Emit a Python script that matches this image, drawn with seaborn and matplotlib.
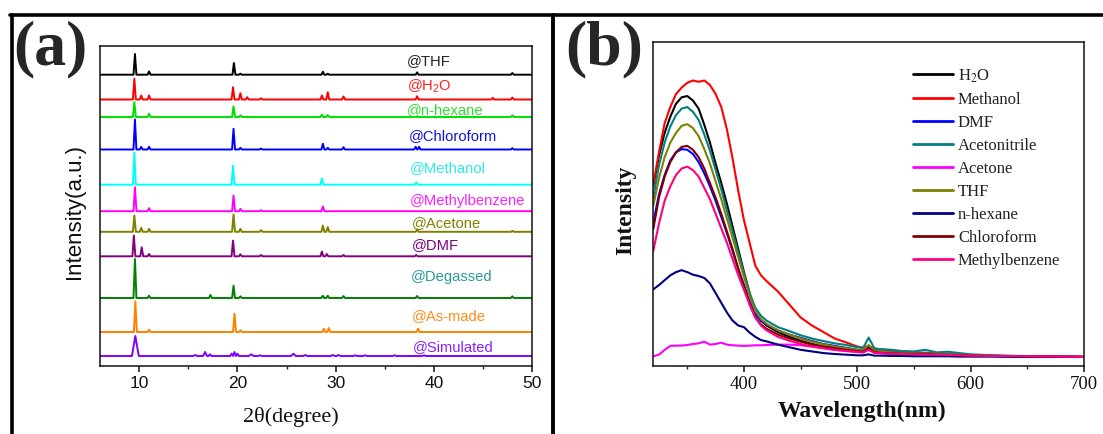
import numpy as np
import pandas as pd
import matplotlib
matplotlib.use("Agg")
import matplotlib.pyplot as plt
import seaborn as sns
from matplotlib.lines import Line2D
from matplotlib.ticker import MultipleLocator

# ---------------- Panel (a): PXRD patterns (2theta positions / relative heights) ----------------
xrd_labels = ["@THF", "@H$_2$O", "@n-hexane", "@Chloroform", "@Methanol", "@Methylbenzene",
              "@Acetone", "@DMF", "@Degassed", "@As-made", "@Simulated"]

thf_pos = [9.56, 11.0, 19.64, 20.3, 28.7, 29.2, 38.3, 48.0]
thf_h = [20.7, 3.3, 11.7, 1.0, 3.0, 1.0, 2.3, 1.7]
h2o_pos = [9.5, 10.2, 11.0, 19.55, 20.3, 21.0, 22.4, 28.6, 29.2, 30.8, 38.3, 46.0, 48.0]
h2o_h = [20.7, 4.0, 4.0, 12.3, 6.3, 2.3, 1.3, 4.0, 7.3, 3.0, 3.3, 1.7, 2.0]
hex_pos = [9.5, 11.0, 19.6, 20.3, 28.6, 29.2, 48.0]
hex_h = [15.0, 3.3, 10.7, 1.7, 2.3, 2.0, 1.7]
chl_pos = [9.56, 10.2, 11.0, 19.6, 20.3, 22.4, 28.7, 29.2, 30.8, 38.15, 38.5, 48.0]
chl_h = [30.0, 2.7, 2.7, 20.7, 1.7, 1.0, 5.7, 1.7, 2.3, 2.7, 2.7, 1.3]
meoh_pos = [9.5, 19.55, 28.6, 38.2]
meoh_h = [32.3, 19.0, 6.3, 2.3]
mb_pos = [9.56, 11.0, 19.6, 20.3, 22.4, 28.7]
mb_h = [24.0, 3.0, 15.7, 2.3, 1.0, 4.7]
ace_pos = [9.5, 10.2, 11.0, 19.6, 20.3, 22.4, 28.7, 29.2, 38.3, 48.0]
ace_h = [16.3, 4.0, 3.0, 17.3, 3.0, 1.7, 6.3, 4.7, 2.3, 1.0]
dmf_pos = [9.45, 10.25, 11.0, 19.55, 20.3, 22.4, 28.6, 29.1, 30.8, 38.2]
dmf_h = [20.7, 9.0, 2.3, 15.7, 2.0, 1.3, 4.7, 2.3, 1.3, 1.3]
deg_pos = [9.56, 11.0, 17.25, 19.6, 20.3, 28.7, 29.2, 30.8, 38.3, 48.0]
deg_h = [39.0, 2.3, 3.0, 12.3, 1.7, 2.3, 2.3, 2.0, 2.0, 1.7]
asm_pos = [9.6, 11.0, 19.7, 20.3, 28.8, 29.3, 38.4]
asm_h = [30.7, 2.3, 18.3, 1.7, 3.3, 4.0, 3.3]
sim_pos = [9.6, 15.7, 16.7, 17.2, 19.4, 19.7, 20.0, 21.4, 22.3, 25.7, 26.9, 29.7, 30.3, 32.0, 33.0, 36.0, 39.0]
sim_h = [20.0, 1.0, 4.0, 1.7, 2.3, 4.0, 2.3, 1.7, 0.7, 2.3, 1.0, 1.0, 1.0, 0.7, 0.7, 0.7, 0.7]
sim_w = [0.35, 0.2, 0.2, 0.15, 0.15, 0.15, 0.15, 0.25, 0.2, 0.25, 0.2, 0.2, 0.2, 0.2, 0.2, 0.2, 0.2]

xrd_offsets = [291.3, 266.5, 249.0, 216.5, 181.3, 154.8, 134.2, 109.7, 68.0, 34.0, 10.0]
xrd_line_colors = ["#000000", "#FF0000", "#00E000", "#0000FF", "#00FFFF", "#FF00FF",
                   "#808000", "#800080", "#008000", "#FF8000", "#8000FF"]
xrd_text_colors = ["#222222", "#FF2020", "#30E030", "#1010E0", "#30E8E8", "#FF20FF",
                   "#808000", "#800080", "#2A9A9A", "#FF8C1A", "#8A20FF"]
label_x = [37.23, 37.23, 37.23, 37.47, 37.57, 37.57, 37.74, 37.74, 37.7, 37.74, 37.9]
label_y = [306.3, 280.3, 257.0, 231.3, 198.7, 166.0, 144.3, 122.0, 90.3, 51.3, 20.3]

# ---------------- Panel (b): PL spectra ----------------
wl = [320, 325, 330, 335, 340, 345, 350, 355, 360, 365, 370, 375, 380, 385, 390, 395, 400, 405,
      410, 415, 420, 430, 440, 450, 460, 470, 480, 490, 500, 505, 510, 515, 520, 530, 540, 550,
      560, 570, 580, 590, 600, 620, 650, 700]
pl_h2o = [0.556, 0.65, 0.72, 0.77, 0.81, 0.83, 0.834, 0.82, 0.795, 0.745, 0.69, 0.625, 0.565, 0.50,
          0.43, 0.36, 0.29, 0.225, 0.165, 0.14, 0.125, 0.105, 0.09, 0.078, 0.068, 0.06, 0.055, 0.05,
          0.045, 0.043, 0.055, 0.042, 0.04, 0.038, 0.037, 0.036, 0.038, 0.035, 0.034, 0.033, 0.032,
          0.031, 0.03, 0.028]
pl_methanol = [0.56, 0.66, 0.75, 0.80, 0.84, 0.86, 0.875, 0.882, 0.878, 0.882, 0.868, 0.84, 0.80,
               0.73, 0.64, 0.54, 0.45, 0.38, 0.31, 0.28, 0.262, 0.23, 0.19, 0.15, 0.125, 0.105,
               0.085, 0.073, 0.06, 0.057, 0.062, 0.053, 0.052, 0.048, 0.045, 0.042, 0.04, 0.038,
               0.036, 0.035, 0.034, 0.032, 0.03, 0.028]
pl_dmf = [0.443, 0.53, 0.59, 0.635, 0.66, 0.67, 0.668, 0.655, 0.63, 0.595, 0.555, 0.51, 0.46, 0.41,
          0.355, 0.30, 0.25, 0.20, 0.16, 0.14, 0.128, 0.11, 0.097, 0.087, 0.077, 0.068, 0.062, 0.056,
          0.05, 0.048, 0.06, 0.047, 0.045, 0.042, 0.04, 0.039, 0.041, 0.037, 0.036, 0.035, 0.033,
          0.031, 0.03, 0.028]
pl_acetonitrile = [0.52, 0.62, 0.69, 0.74, 0.775, 0.795, 0.80, 0.785, 0.76, 0.715, 0.665, 0.605,
                   0.545, 0.48, 0.415, 0.35, 0.285, 0.225, 0.18, 0.155, 0.14, 0.12, 0.108, 0.095,
                   0.085, 0.077, 0.07, 0.065, 0.058, 0.055, 0.088, 0.055, 0.052, 0.05, 0.046, 0.045,
                   0.05, 0.042, 0.044, 0.04, 0.036, 0.033, 0.03, 0.028]
pl_acetone = [0.03, 0.035, 0.05, 0.062, 0.063, 0.063, 0.065, 0.068, 0.07, 0.075, 0.066, 0.068, 0.072,
              0.066, 0.064, 0.063, 0.062, 0.063, 0.064, 0.064, 0.065, 0.066, 0.066, 0.064, 0.06,
              0.055, 0.05, 0.046, 0.043, 0.042, 0.05, 0.041, 0.04, 0.038, 0.037, 0.036, 0.037,
              0.035, 0.034, 0.033, 0.032, 0.031, 0.03, 0.028]
pl_thf = [0.495, 0.58, 0.645, 0.69, 0.72, 0.742, 0.747, 0.735, 0.71, 0.67, 0.625, 0.57, 0.515,
          0.455, 0.395, 0.335, 0.275, 0.215, 0.17, 0.145, 0.13, 0.11, 0.097, 0.085, 0.075, 0.067,
          0.06, 0.055, 0.05, 0.048, 0.065, 0.047, 0.045, 0.042, 0.04, 0.039, 0.04, 0.037, 0.036,
          0.035, 0.033, 0.031, 0.03, 0.028]
pl_nhexane = [0.237, 0.25, 0.265, 0.28, 0.29, 0.296, 0.29, 0.282, 0.278, 0.272, 0.255, 0.225, 0.195,
              0.165, 0.14, 0.125, 0.12, 0.103, 0.09, 0.08, 0.076, 0.066, 0.058, 0.05, 0.045, 0.04,
              0.037, 0.035, 0.033, 0.033, 0.036, 0.032, 0.032, 0.031, 0.031, 0.03, 0.03, 0.03, 0.03,
              0.029, 0.029, 0.029, 0.028, 0.028]
pl_chloroform = [0.423, 0.52, 0.585, 0.63, 0.66, 0.677, 0.68, 0.668, 0.645, 0.61, 0.565, 0.52, 0.47,
                 0.415, 0.36, 0.30, 0.245, 0.19, 0.15, 0.128, 0.115, 0.097, 0.085, 0.075, 0.066,
                 0.06, 0.055, 0.05, 0.046, 0.044, 0.055, 0.043, 0.041, 0.039, 0.038, 0.037, 0.038,
                 0.035, 0.034, 0.033, 0.032, 0.031, 0.03, 0.028]
pl_methylbenzene = [0.356, 0.44, 0.51, 0.555, 0.59, 0.61, 0.616, 0.605, 0.585, 0.55, 0.515, 0.47,
                    0.425, 0.38, 0.33, 0.28, 0.235, 0.19, 0.15, 0.125, 0.11, 0.09, 0.078, 0.068,
                    0.06, 0.055, 0.05, 0.047, 0.044, 0.042, 0.05, 0.041, 0.04, 0.038, 0.037, 0.036,
                    0.036, 0.035, 0.034, 0.033, 0.032, 0.031, 0.03, 0.028]
pl_names = ["H$_2$O", "Methanol", "DMF", "Acetonitrile", "Acetone", "THF", "n-hexane",
            "Chloroform", "Methylbenzene"]
pl_colors = ["#000000", "#FF0000", "#0000FF", "#008080", "#FF00FF", "#808000", "#000080",
             "#800000", "#FF0080"]

# ---------------- Figure ----------------
sns.set_theme(style="white")
plt.rcParams["font.family"] = ["Liberation Sans", "DejaVu Sans"]
plt.rcParams["mathtext.fontset"] = "custom"
plt.rcParams["mathtext.rm"] = "Liberation Sans"
plt.rcParams["mathtext.it"] = "Liberation Sans:italic"

W, H = 1103, 435
fig = plt.figure(figsize=(W / 100, H / 100), dpi=100)
fig.patch.set_facecolor("white")
axa = fig.add_axes([100 / W, 68 / H, 432 / W, 320.3 / H])
axb = fig.add_axes([653.3 / W, 68 / H, 430.7 / W, 323.7 / H])


def peak_vertices(pos, hts, widths, x0=6.0, x1=50.0):
    xs, ys = [x0], [0.0]
    for p, h, w in zip(pos, hts, widths):
        xs += [p - w, p, p + w]
        ys += [0.0, h, 0.0]
    xs.append(x1)
    ys.append(0.0)
    return xs, ys


xrd_series = [(thf_pos, thf_h), (h2o_pos, h2o_h), (hex_pos, hex_h), (chl_pos, chl_h),
              (meoh_pos, meoh_h), (mb_pos, mb_h), (ace_pos, ace_h), (dmf_pos, dmf_h),
              (deg_pos, deg_h), (asm_pos, asm_h), (sim_pos, sim_h)]

for i, (pos, hts) in enumerate(xrd_series):
    widths = sim_w if i == len(xrd_series) - 1 else [0.15] * len(pos)
    xs, ys = peak_vertices(pos, hts, widths)
    df = pd.DataFrame({"two_theta": xs, "intensity": np.array(ys) + xrd_offsets[i]})
    sns.lineplot(data=df, x="two_theta", y="intensity", ax=axa, color=xrd_line_colors[i],
                 lw=1.4, estimator=None, sort=False)
    axa.text(label_x[i], label_y[i], xrd_labels[i], color=xrd_text_colors[i], fontsize=10.6,
             ha="left", va="center")

axa.set_xlim(6, 50)
axa.set_ylim(0, 320.3)
axa.set_yticks([])
axa.xaxis.set_major_locator(MultipleLocator(10))
axa.xaxis.set_minor_locator(MultipleLocator(5))
axa.tick_params(axis="x", which="major", direction="out", length=4, width=1.1, pad=2.5,
                labelsize=12.5, bottom=True, colors="#111111")
axa.tick_params(axis="x", which="minor", direction="out", length=2.2, width=1.0, bottom=True)
axa.set_xlabel("2θ(degree)", family="Liberation Serif", fontsize=16, color="#111111")
axa.xaxis.label.set_va("center")
axa.xaxis.set_label_coords(0.442, -0.155)
axa.set_ylabel("Intensity(a.u.)", fontsize=16, color="#111111")
axa.yaxis.label.set_va("center")
axa.yaxis.set_label_coords(-0.058, 0.487)
for s in axa.spines.values():
    s.set_linewidth(1.1)
    s.set_color("#111111")

# Panel (b)
pl_values = [pl_h2o, pl_methanol, pl_dmf, pl_acetonitrile, pl_acetone, pl_thf, pl_nhexane,
             pl_chloroform, pl_methylbenzene]
pl_df = pd.concat([pd.DataFrame({"Wavelength": wl, "Intensity": v, "Solvent": n})
                   for n, v in zip(pl_names, pl_values)], ignore_index=True)
sns.lineplot(data=pl_df, x="Wavelength", y="Intensity", hue="Solvent", hue_order=pl_names,
             palette=dict(zip(pl_names, pl_colors)), ax=axb, lw=1.5, estimator=None, sort=False)
axb.set_xlim(320, 700)
axb.set_ylim(0, 1)
axb.set_yticks([])
axb.xaxis.set_major_locator(MultipleLocator(100))
axb.xaxis.set_minor_locator(MultipleLocator(50))
axb.set_xticks([400, 500, 600, 700])
axb.tick_params(axis="x", which="major", direction="out", length=4, width=1.1, pad=2.5,
                labelsize=13.5, bottom=True, colors="#111111")
axb.tick_params(axis="x", which="minor", direction="out", length=2.2, width=1.0, bottom=True)
for lab in axb.get_xticklabels():
    lab.set_family("Liberation Serif")
axb.set_xlabel("Wavelength(nm)", family="Liberation Serif", fontweight="bold", fontsize=17,
               color="#111111")
axb.xaxis.label.set_va("center")
axb.xaxis.set_label_coords(0.4846, -0.136)
axb.set_ylabel("Intensity", family="Liberation Serif", fontweight="bold", fontsize=17,
               color="#111111")
axb.yaxis.label.set_va("center")
axb.yaxis.set_label_coords(-0.064, 0.485)
for s in axb.spines.values():
    s.set_linewidth(1.1)
    s.set_color("#111111")

handles, labels = axb.get_legend_handles_labels()
leg = axb.legend(handles, labels, loc="upper left",
                 bbox_to_anchor=(913 / W, (H - 68) / H), bbox_transform=fig.transFigure,
                 frameon=False, borderpad=0, borderaxespad=0, handlelength=2.4,
                 handletextpad=0.3, labelspacing=0.42,
                 prop={"family": "Liberation Serif", "size": 12})
for t in leg.get_texts():
    t.set_color("#222222")
    t.set_math_fontfamily("stix")
for l in leg.get_lines():
    l.set_linewidth(2.0)

# Panel letters
fig.text(13 / W, (H - 49) / H, "(a)", family="Liberation Serif", fontweight="bold", fontsize=46,
         ha="left", va="center")
fig.text(565 / W, (H - 49) / H, "(b)", family="Liberation Serif", fontweight="bold", fontsize=46,
         ha="left", va="center")

# Outer frame lines
fig.add_artist(Line2D([10 / W, 1.0], [(H - 16) / H] * 2, transform=fig.transFigure,
                      color="black", lw=2.6))
fig.add_artist(Line2D([11.5 / W] * 2, [0, (H - 16) / H], transform=fig.transFigure,
                      color="black", lw=2.6))
fig.add_artist(Line2D([553 / W] * 2, [0, (H - 16) / H], transform=fig.transFigure,
                      color="black", lw=2.8))

fig.savefig("out.png", dpi=100, facecolor="white")
